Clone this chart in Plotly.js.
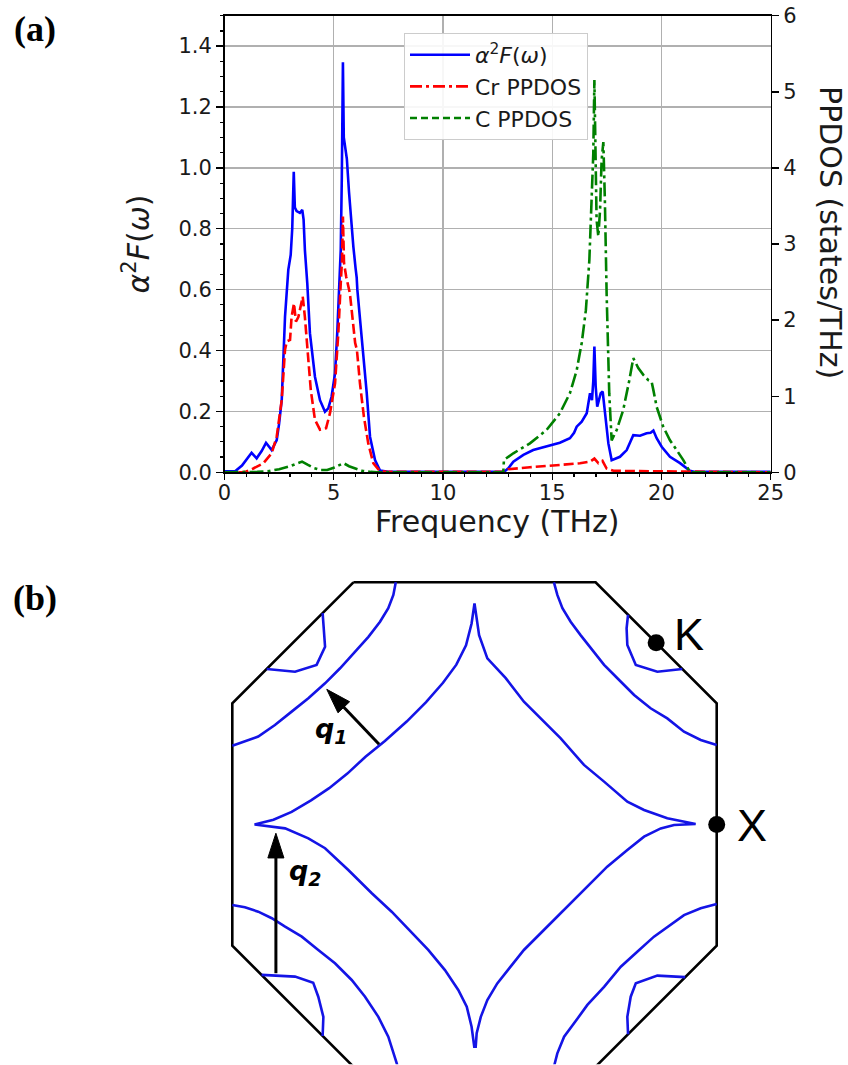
<!DOCTYPE html>
<html>
<head>
<meta charset="utf-8">
<script src="https://cdn.plot.ly/plotly-3.0.1.min.js"></script>
<style>
html,body{margin:0;padding:0;background:#fff;}
#chart{width:848px;height:1065px;}
</style>
</head>
<body>
<div id="chart"></div>
<script>
// ---------- Panel (a): spectral data ----------
const freqA2F = [0, 0.5, 0.8, 1.0, 1.24, 1.47, 1.7, 1.9, 2.16, 2.39, 2.5, 2.62, 2.77, 2.92, 3.03, 3.1, 3.17, 3.22, 3.3, 3.45, 3.56, 3.62, 3.68, 3.79, 3.91, 4.14, 4.37, 4.6, 4.75, 4.9, 5.06, 5.16, 5.25, 5.32, 5.37, 5.42, 5.46, 5.52, 5.6, 5.7, 5.8, 5.9, 6.0, 6.05, 6.08, 6.2, 6.35, 6.51, 6.66, 6.89, 7.12, 7.5, 12.8, 12.99, 13.22, 13.68, 14.13, 14.74, 15.35, 15.81, 16.0, 16.12, 16.35, 16.58, 16.73, 16.82, 16.88, 16.93, 16.99, 17.06, 17.15, 17.22, 17.31, 17.41, 17.57, 17.72, 18.1, 18.41, 18.71, 19.02, 19.32, 19.5, 19.63, 19.78, 20.01, 20.39, 20.85, 21.3, 21.5, 25];
const a2F = [0.003, 0.004, 0.022, 0.04, 0.064, 0.046, 0.07, 0.097, 0.073, 0.106, 0.16, 0.238, 0.511, 0.665, 0.714, 0.80, 0.987, 0.87, 0.858, 0.852, 0.862, 0.83, 0.73, 0.62, 0.457, 0.314, 0.237, 0.199, 0.21, 0.248, 0.326, 0.457, 0.62, 0.73, 0.97, 1.347, 1.10, 1.065, 1.03, 0.92, 0.82, 0.74, 0.67, 0.64, 0.60, 0.511, 0.40, 0.26, 0.117, 0.04, 0.006, 0.002, 0.002, 0.013, 0.035, 0.057, 0.073, 0.084, 0.097, 0.112, 0.13, 0.15, 0.166, 0.194, 0.26, 0.237, 0.30, 0.413, 0.281, 0.216, 0.24, 0.26, 0.265, 0.194, 0.095, 0.04, 0.051, 0.073, 0.122, 0.12, 0.128, 0.13, 0.137, 0.112, 0.084, 0.051, 0.03, 0.005, 0.002, 0.002];

const freqCr = [0, 0.8, 1.0, 1.32, 1.78, 2.16, 2.39, 2.62, 2.77, 2.85, 3.0, 3.07, 3.18, 3.27, 3.38, 3.49, 3.58, 3.68, 3.79, 3.95, 4.14, 4.37, 4.65, 4.83, 5.06, 5.21, 5.32, 5.38, 5.42, 5.47, 5.57, 5.74, 5.98, 6.06, 6.2, 6.38, 6.58, 6.81, 7.1, 7.5, 12.8, 12.99, 13.98, 15.5, 16.27, 16.73, 16.93, 17.11, 17.3, 17.49, 17.8, 19.0, 21.3, 21.5, 25];
const crPPDOS = [0, 0.0, 0.01, 0.05, 0.12, 0.25, 0.47, 0.95, 1.61, 1.72, 1.74, 2.04, 2.22, 1.98, 2.04, 2.18, 2.31, 2.04, 1.61, 1.08, 0.69, 0.56, 0.58, 0.78, 1.17, 1.83, 2.48, 2.79, 3.36, 2.75, 2.57, 2.35, 1.70, 1.61, 1.17, 0.73, 0.38, 0.12, 0.02, 0.005, 0.005, 0.04, 0.066, 0.096, 0.118, 0.14, 0.18, 0.12, 0.15, 0.05, 0.02, 0.015, 0.01, 0.0, 0.0];

const freqC = [0, 1.0, 1.5, 2.0, 2.5, 3.0, 3.3, 3.55, 3.8, 4.1, 4.4, 4.7, 5.0, 5.3, 5.45, 5.7, 6.0, 6.3, 6.7, 7.0, 12.76, 12.79, 13.22, 13.98, 14.74, 15.35, 15.81, 16.12, 16.35, 16.54, 16.7, 16.8, 16.88, 16.93, 16.97, 17.03, 17.11, 17.19, 17.26, 17.34, 17.41, 17.49, 17.61, 17.72, 17.95, 18.25, 18.53, 18.71, 18.94, 19.17, 19.4, 19.55, 19.63, 19.78, 20.08, 20.39, 20.7, 21.0, 21.27, 21.4, 25];
const cPPDOS = [0, 0, 0.005, 0.015, 0.04, 0.08, 0.11, 0.14, 0.10, 0.055, 0.03, 0.03, 0.06, 0.10, 0.12, 0.08, 0.045, 0.02, 0.005, 0, 0, 0.162, 0.25, 0.38, 0.556, 0.775, 1.04, 1.34, 1.70, 2.13, 2.79, 3.45, 4.19, 5.155, 4.10, 3.32, 3.10, 3.45, 4.10, 4.34, 3.58, 2.35, 1.04, 0.42, 0.556, 0.82, 1.21, 1.50, 1.37, 1.28, 1.21, 1.19, 1.08, 0.86, 0.60, 0.42, 0.29, 0.16, 0.02, 0, 0];

const seriesNames = ["<i>α</i><sup>2</sup><i>F</i>(<i>ω</i>)", "Cr PPDOS", "C PPDOS"];
const xTitle = "Frequency (THz)", yRightTitle = "PPDOS (states/THz)";
const xTickStep = 5, xMinorStep = 1;
const yLeftTickStep = 0.2, yLeftMinorStep = 0.05;
const yRightTickStep = 1;

// ---------- Panel (b): Fermi surface cut (k-space units, X = (1,0)) ----------
const bzX = [-0.5, 0.5, 1, 1, 0.5, -0.5, -1, -1, -0.5];
const bzY = [1, 1, 0.5, -0.5, -1, -1, -0.5, 0.5, 1];

const starX = [0, -0.012, -0.035, -0.075, -0.13, -0.2, -0.28, -0.37, -0.45, -0.525, -0.6, -0.675, -0.755, -0.83, -0.908,
  -0.782, -0.686, -0.617, -0.521, -0.424, -0.342, -0.259, -0.191, -0.122, -0.067, -0.032, -0.012, -0.001,
  0.005, 0.009, 0.026, 0.053, 0.094, 0.149, 0.204, 0.273, 0.342, 0.411, 0.480, 0.548, 0.631, 0.700, 0.769, 0.824, 0.913,
  0.879, 0.796, 0.700, 0.631, 0.535, 0.452, 0.356, 0.273, 0.204, 0.129, 0.053, 0.019, 0];
const starY = [0.913, 0.83, 0.74, 0.66, 0.585, 0.505, 0.425, 0.345, 0.28, 0.21, 0.15, 0.1, 0.052, 0.02, 0.0,
  -0.016, -0.057, -0.098, -0.188, -0.284, -0.360, -0.449, -0.518, -0.601, -0.683, -0.752, -0.835, -0.917,
  -0.917, -0.862, -0.794, -0.725, -0.656, -0.587, -0.518, -0.449, -0.381, -0.312, -0.243, -0.174, -0.105, -0.050, -0.016, -0.002, 0.002,
  0.009, 0.026, 0.060, 0.094, 0.177, 0.246, 0.356, 0.438, 0.507, 0.604, 0.686, 0.782, 0.913];

const arcULx = [-0.325, -0.335, -0.356, -0.390, -0.438, -0.493, -0.555, -0.617, -0.686, -0.755, -0.824, -0.893, -0.948, -1.0];
const arcULy = [1.0, 0.948, 0.893, 0.837, 0.775, 0.713, 0.645, 0.583, 0.521, 0.466, 0.411, 0.363, 0.342, 0.325];
const arcURx = [0.328, 0.342, 0.363, 0.397, 0.438, 0.480, 0.535, 0.590, 0.659, 0.727, 0.796, 0.865, 0.934, 1.0];
const arcURy = [1.0, 0.948, 0.893, 0.837, 0.782, 0.727, 0.659, 0.604, 0.535, 0.480, 0.438, 0.383, 0.349, 0.328];
const arcLLx = [-1.0, -0.948, -0.893, -0.837, -0.782, -0.713, -0.645, -0.576, -0.507, -0.452, -0.397, -0.356, -0.321, -0.318];
const arcLLy = [-0.332, -0.342, -0.360, -0.387, -0.422, -0.463, -0.518, -0.573, -0.642, -0.711, -0.794, -0.876, -0.986, -1.0];
const arcLRx = [1.0, 0.934, 0.865, 0.810, 0.741, 0.672, 0.604, 0.535, 0.466, 0.411, 0.370, 0.342, 0.328];
const arcLRy = [-0.328, -0.346, -0.374, -0.415, -0.463, -0.525, -0.587, -0.670, -0.745, -0.821, -0.876, -0.945, -1.0];

const pocketULx = [-0.627, -0.621, -0.617, -0.652, -0.741, -0.858];
const pocketULy = [0.873, 0.775, 0.734, 0.659, 0.631, 0.642];
const pocketURx = [0.634, 0.628, 0.631, 0.666, 0.755, 0.858];
const pocketURy = [0.866, 0.810, 0.741, 0.659, 0.631, 0.642];
const pocketLLx = [-0.879, -0.741, -0.666, -0.645, -0.624, -0.627];
const pocketLLy = [-0.621, -0.628, -0.653, -0.711, -0.794, -0.873];
const pocketLRx = [0.87, 0.755, 0.666, 0.645, 0.631, 0.634];
const pocketLRy = [-0.63, -0.624, -0.656, -0.711, -0.794, -0.866];

const pointNames = ["K", "X"];
const pointX = [0.75, 1.0];
const pointY = [0.75, 0.0];

// scattering vectors: [tail, head]
const q1X = [-0.394, -0.610], q1Y = [0.331, 0.558];
const q2X = [-0.820, -0.820], q2Y = [-0.614, -0.036];
const qLabels = ["<b><i>q</i></b><sub><b><i>1</i></b></sub>", "<b><i>q</i></b><sub><b><i>2</i></b></sub>"];
const qLabelX = [-0.592, -0.700], qLabelY = [0.39, -0.20];

// ---------- styling ----------
const W = 848, H = 1065;
const fontMain = "DejaVu Sans, Verdana, sans-serif";
const blue = "#0000ff", red = "#ff0000", green = "#008000";
const fsBlue = "#1414e6";
const pxX = v => v / W, pxY = v => 1 - v / H;

const traces = [];
traces.push({x: freqA2F, y: a2F, type: "scatter", mode: "lines", xaxis: "x", yaxis: "y",
  line: {color: blue, width: 2.6}, showlegend: false, hoverinfo: "skip"});
traces.push({x: freqCr, y: crPPDOS, type: "scatter", mode: "lines", xaxis: "x", yaxis: "y2",
  line: {color: red, width: 2.6, dash: "10px,4px"}, showlegend: false, hoverinfo: "skip"});
traces.push({x: freqC, y: cPPDOS, type: "scatter", mode: "lines", xaxis: "x", yaxis: "y2",
  line: {color: green, width: 2.6, dash: "14px,4px,3px,4px"}, showlegend: false, hoverinfo: "skip"});
// legend entries (the reference legend shows Cr as dash-dot and C as dashed)
traces.push({x: [null], y: [null], type: "scatter", mode: "lines", xaxis: "x", yaxis: "y",
  name: seriesNames[0], line: {color: blue, width: 2.6}});
traces.push({x: [null], y: [null], type: "scatter", mode: "lines", xaxis: "x", yaxis: "y",
  name: seriesNames[1], line: {color: red, width: 2.6, dash: "12px,4px,3px,4px"}});
traces.push({x: [null], y: [null], type: "scatter", mode: "lines", xaxis: "x", yaxis: "y",
  name: seriesNames[2], line: {color: green, width: 2.6, dash: "7px,4px"}});
// empty traces that attach the tick-only axes
traces.push({x: [null], y: [null], type: "scatter", mode: "lines", xaxis: "x3", yaxis: "y", showlegend: false, hoverinfo: "skip"});
traces.push({x: [null], y: [null], type: "scatter", mode: "lines", xaxis: "x4", yaxis: "y", showlegend: false, hoverinfo: "skip"});
traces.push({x: [null], y: [null], type: "scatter", mode: "lines", xaxis: "x", yaxis: "y4", showlegend: false, hoverinfo: "skip"});

// panel (b)
const bLine = (xs, ys, color, width) => ({x: xs, y: ys, type: "scatter", mode: "lines", xaxis: "x2", yaxis: "y3",
  line: {color: color, width: width}, showlegend: false, hoverinfo: "skip"});
traces.push(bLine(bzX, bzY, "#000000", 2.6));
traces.push(bLine(starX, starY, fsBlue, 2.6));
traces.push(bLine(arcULx, arcULy, fsBlue, 2.6));
traces.push(bLine(arcURx, arcURy, fsBlue, 2.6));
traces.push(bLine(arcLLx, arcLLy, fsBlue, 2.6));
traces.push(bLine(arcLRx, arcLRy, fsBlue, 2.6));
traces.push(bLine(pocketULx, pocketULy, fsBlue, 2.6));
traces.push(bLine(pocketURx, pocketURy, fsBlue, 2.6));
traces.push(bLine(pocketLLx, pocketLLy, fsBlue, 2.6));
traces.push(bLine(pocketLRx, pocketLRy, fsBlue, 2.6));
traces.push({x: pointX, y: pointY, type: "scatter", mode: "markers", xaxis: "x2", yaxis: "y3",
  marker: {color: "#000000", size: 17}, showlegend: false, hoverinfo: "skip", cliponaxis: false});
const arrowTrace = (xs, ys) => ({x: xs, y: ys, type: "scatter", mode: "lines+markers", xaxis: "x2", yaxis: "y3",
  line: {color: "#000000", width: 3},
  marker: {symbol: ["circle", "arrow"], size: [0, 26], color: "#000000", opacity: 1, angleref: "previous",
    line: {width: 1, color: "#000000"}},
  showlegend: false, hoverinfo: "skip", cliponaxis: false});
traces.push(arrowTrace(q1X, q1Y));
traces.push(arrowTrace(q2X, q2Y));

const tickFont = {family: fontMain, size: 21, color: "#1a1a1a"};
const titleFont = {family: fontMain, size: 30, color: "#1a1a1a"};

const annotations = [
  {text: xTitle, xref: "paper", yref: "paper", x: pxX(497.6), y: pxY(521),
    xanchor: "center", yanchor: "middle", showarrow: false, font: titleFont},
  {text: yRightTitle, xref: "paper", yref: "paper", x: pxX(830), y: pxY(232),
    xanchor: "center", yanchor: "middle", textangle: 90, showarrow: false, font: titleFont},
  {text: "<b>(a)</b>", xref: "paper", yref: "paper", x: pxX(35), y: pxY(29), xanchor: "center", yanchor: "middle",
    showarrow: false, font: {family: "Liberation Serif, Times New Roman, serif", size: 36, color: "#000"}},
  {text: "<b>(b)</b>", xref: "paper", yref: "paper", x: pxX(35), y: pxY(598), xanchor: "center", yanchor: "middle",
    showarrow: false, font: {family: "Liberation Serif, Times New Roman, serif", size: 36, color: "#000"}},
  {text: pointNames[0], xref: "paper", yref: "paper", x: pxX(689), y: pxY(634), xanchor: "center", yanchor: "middle",
    showarrow: false, font: {family: "Liberation Sans, Arial, sans-serif", size: 45, color: "#000"}},
  {text: pointNames[1], xref: "paper", yref: "paper", x: pxX(752), y: pxY(825), xanchor: "center", yanchor: "middle",
    showarrow: false, font: {family: "Liberation Sans, Arial, sans-serif", size: 45, color: "#000"}}
];
qLabels.forEach((t, i) => annotations.push({text: t, xref: "x2", yref: "y3", x: qLabelX[i], y: qLabelY[i],
  xanchor: "center", yanchor: "middle", showarrow: false, font: {family: fontMain, size: 27, color: "#000"}}));

const axisLine = {showline: true, linecolor: "#000", linewidth: 1.4};
const tickOnly = {automargin: false, showticklabels: false, showgrid: false, zeroline: false, showline: false, tickcolor: "#000"};
const layout = {
  width: W, height: H,
  margin: {l: 0, r: 0, t: 0, b: 0, pad: 0},
  paper_bgcolor: "#ffffff", plot_bgcolor: "#ffffff",
  showlegend: true,
  legend: {x: pxX(404), y: pxY(33), xanchor: "left", yanchor: "top",
    bgcolor: "rgba(255,255,255,0.9)", bordercolor: "#cccccc", borderwidth: 1,
    font: {family: fontMain, size: 22, color: "#1a1a1a"}, itemwidth: 60},
  // main frequency axis: labels close to the axis (short ticks), tick marks drawn by x3/x4
  xaxis: Object.assign({domain: [pxX(224.5), pxX(770.7)], range: [0, 25], anchor: "y", automargin: false,
    tickmode: "linear", tick0: 0, dtick: xTickStep, ticks: "outside", ticklen: 1, tickwidth: 1.4, tickcolor: "#000",
    showgrid: true, gridcolor: "#b0b0b0", gridwidth: 1.3, zeroline: false, mirror: true,
    tickfont: tickFont}, axisLine),
  xaxis3: Object.assign({overlaying: "x", anchor: "y", side: "bottom", range: [0, 25],
    tickmode: "linear", tick0: 0, dtick: xMinorStep, ticks: "outside", ticklen: 4, tickwidth: 1.2}, tickOnly),
  xaxis4: Object.assign({overlaying: "x", anchor: "y", side: "bottom", range: [0, 25],
    tickmode: "linear", tick0: 0, dtick: xTickStep, ticks: "outside", ticklen: 7, tickwidth: 1.4}, tickOnly),
  yaxis: Object.assign({domain: [1 - 472.3 / H, 1 - 15.7 / H], range: [0, 1.5], anchor: "x", automargin: false,
    tickmode: "linear", tick0: 0, dtick: yLeftTickStep, tickformat: ".1f", ticks: "outside", ticklen: 7, tickwidth: 1.4, tickcolor: "#000",
    showgrid: true, gridcolor: "#b0b0b0", gridwidth: 1.3, zeroline: false, mirror: true,
    tickfont: tickFont,
    title: {text: seriesNames[0], font: titleFont, standoff: 20}}, axisLine),
  yaxis4: Object.assign({overlaying: "y", anchor: "x", side: "left", range: [0, 1.5],
    tickmode: "linear", tick0: 0, dtick: yLeftMinorStep, ticks: "outside", ticklen: 4, tickwidth: 1.2}, tickOnly),
  yaxis2: Object.assign({overlaying: "y", side: "right", anchor: "x", range: [0, 6], automargin: false,
    tickmode: "linear", tick0: 0, dtick: yRightTickStep, ticks: "outside", ticklen: 7, tickwidth: 1.4, tickcolor: "#000",
    showgrid: false, zeroline: false, tickfont: tickFont}, axisLine),
  xaxis2: {domain: [pxX(474.5 - 1.05 * 242.2), pxX(474.5 + 1.05 * 242.2)], range: [-1.05, 1.05], anchor: "y3",
    visible: false, fixedrange: true},
  yaxis3: {domain: [1 - (824.5 + 0.99 * 242.2) / H, 1 - (824.5 - 1.05 * 242.2) / H], range: [-0.99, 1.05], anchor: "x2",
    visible: false, fixedrange: true},
  annotations: annotations
};

Plotly.newPlot("chart", traces, layout, {staticPlot: true, displayModeBar: false});
</script>
</body>
</html>
